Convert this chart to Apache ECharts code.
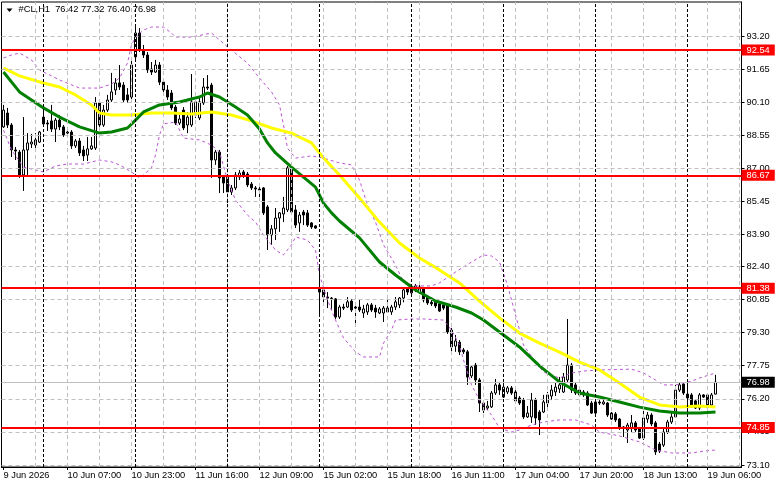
<!DOCTYPE html>
<html><head><meta charset="utf-8">
<script src="https://cdn.jsdelivr.net/npm/echarts@6/dist/echarts.min.js"></script>
<style>html,body{margin:0;padding:0;background:#fff}#c{width:781px;height:489px}</style>
</head><body><div id="c"></div>
<script>
// ---- data ----
const symbolName = "#CL,H1";
const dayList = [["9 Jun",14,23],["10 Jun",1,23],["11 Jun",1,23],["12 Jun",1,23],["15 Jun",1,23],["16 Jun",1,23],["17 Jun",1,23],["18 Jun",1,23],["19 Jun",1,8]];
const daySeparators = [10,33,56,79,102,125,148,171];
const xTickLabels = ["9 Jun 2026","10 Jun 07:00","10 Jun 23:00","11 Jun 16:00","12 Jun 09:00","15 Jun 02:00","15 Jun 18:00","16 Jun 11:00","17 Jun 04:00","17 Jun 20:00","18 Jun 13:00","19 Jun 06:00"];
const yTickLabels = [93.20,91.65,90.10,88.55,87.00,85.45,83.90,82.40,80.85,79.30,77.75,76.20,74.65,73.10];
const levels = [92.54,86.67,81.38,74.85];

const opens = [88.94,89.59,89.03,87.86,87.76,86.69,87.86,88.14,88.09,88.23,
89.40,89.12,89.22,88.84,89.26,88.94,88.65,88.70,88.05,88.28,87.86,87.62,87.91,87.95,90.06,89.03,89.73,90.20,90.67,91.00,90.90,90.44,90.34,
92.22,93.34,92.54,92.31,91.65,91.51,91.84,91.04,90.67,90.53,89.87,89.12,89.73,89.03,89.03,89.50,89.36,90.06,90.81,90.90,87.39,87.76,86.59,
86.59,85.89,86.08,86.59,86.83,86.73,86.26,86.08,86.03,86.08,85.19,83.88,84.16,84.67,84.86,85.05,87.02,85.05,84.44,84.95,84.91,84.44,84.30,
81.38,81.30,80.97,80.92,80.88,80.03,80.50,80.50,80.78,80.50,80.50,80.22,80.27,80.60,80.45,80.22,80.22,80.27,80.27,80.50,80.60,80.92,81.38,
81.16,81.38,81.44,81.38,80.97,80.72,80.72,80.65,80.60,80.60,79.42,78.67,78.85,78.49,78.40,77.27,77.78,77.08,76.00,75.77,75.82,76.47,76.85,
76.28,76.52,76.71,76.52,76.24,76.14,75.35,75.35,76.14,75.58,75.58,76.00,76.33,76.52,76.66,76.52,77.08,77.78,76.85,76.38,76.52,76.47,76.00,
76.05,76.05,75.96,76.00,75.53,75.49,75.25,74.88,74.74,74.83,75.07,74.78,74.36,75.25,75.44,75.07,74.08,74.03,74.64,75.11,75.35,76.61,76.89,
76.42,76.38,76.10,75.77,76.38,76.38,75.91,76.42];
const closes = [89.73,89.03,87.86,87.81,86.69,87.86,88.19,88.23,88.33,88.70,
89.08,89.08,88.84,89.26,88.94,88.56,88.70,88.05,88.28,87.72,87.58,87.91,88.05,90.06,89.03,89.73,90.20,90.58,91.00,90.81,90.20,90.20,91.84,
93.34,92.54,92.31,91.61,91.51,91.84,91.04,90.67,90.34,89.83,89.12,89.31,88.89,89.40,90.11,90.11,90.11,90.81,90.76,87.39,87.76,86.55,86.31,
85.89,86.08,86.69,86.78,86.69,86.22,86.08,86.03,85.98,84.91,83.88,84.16,84.67,84.91,85.14,87.02,84.95,84.34,84.81,84.81,84.34,84.25,84.20,
81.20,80.97,80.92,80.90,80.03,80.50,80.45,80.74,80.36,80.45,80.36,80.41,80.60,80.36,80.27,80.41,80.45,80.45,80.50,80.74,80.92,81.30,81.20,
81.44,81.49,81.20,80.83,80.69,80.65,80.55,80.31,80.45,79.33,78.63,78.91,78.40,78.40,77.22,77.69,77.08,76.00,75.67,75.86,76.47,76.85,76.61,
76.75,76.71,76.47,76.10,76.00,75.35,75.53,76.14,75.30,75.21,76.05,76.38,76.61,76.75,76.85,77.22,77.78,76.61,76.47,76.61,76.38,75.91,75.53,
75.53,76.00,76.05,75.44,75.25,75.21,74.83,74.83,74.97,75.07,74.74,74.36,75.30,75.44,75.02,73.71,73.75,74.64,75.11,75.35,76.61,76.85,76.47,
76.24,75.82,75.77,76.38,76.28,75.91,76.38,76.98];
const lows = [88.89,88.89,87.53,87.39,86.55,85.94,86.69,87.95,87.91,88.19,
88.94,88.75,88.70,88.23,88.79,88.47,88.56,87.91,87.95,87.58,87.34,87.34,87.86,87.86,88.94,88.94,89.64,90.11,90.44,90.67,90.06,90.06,90.20,
92.08,92.45,92.17,91.47,91.37,91.47,90.90,90.58,90.20,89.73,89.03,89.03,88.79,88.65,88.94,89.36,89.26,89.97,90.67,86.55,87.16,85.84,85.84,
85.37,85.75,85.98,86.45,86.55,86.12,85.98,85.66,85.61,84.81,83.17,83.41,83.64,84.02,84.48,84.95,84.81,84.20,84.02,84.34,84.25,84.16,84.16,
80.13,80.69,80.45,80.36,79.94,79.94,80.36,80.45,80.27,79.66,80.27,79.99,80.13,80.27,79.99,80.17,79.80,80.22,80.13,80.36,80.45,80.72,81.06,
80.97,81.20,81.11,80.72,80.60,80.55,80.45,80.27,80.36,79.24,78.40,78.40,78.25,78.30,76.85,77.17,76.85,75.58,75.53,75.67,75.77,76.38,76.38,
76.24,76.42,76.38,76.05,75.91,75.25,75.30,75.07,74.97,74.50,75.53,75.77,76.14,76.33,76.47,76.47,76.94,76.47,76.38,76.33,76.28,75.86,75.49,
75.44,75.91,75.91,75.35,75.21,75.11,74.74,74.41,74.13,74.64,74.64,74.32,74.27,75.07,74.92,73.57,73.66,73.94,74.55,75.02,75.30,76.52,76.38,
75.35,75.77,75.72,75.67,76.24,75.82,75.82,76.40];
const highs = [89.97,89.83,89.12,88.00,87.86,89.40,88.65,88.61,88.65,88.75,
89.87,89.26,89.97,89.36,89.50,89.03,88.79,88.79,88.37,88.42,88.05,88.47,88.47,90.34,90.20,89.97,90.44,91.47,91.23,91.84,91.04,90.76,92.08,
93.62,93.57,92.78,92.45,91.98,92.08,91.98,91.14,90.90,90.67,89.97,89.50,89.87,89.64,91.42,90.20,90.30,91.23,91.37,91.00,87.86,87.86,86.69,
86.69,86.22,86.83,86.92,86.92,86.83,86.36,86.17,86.12,86.12,85.28,84.34,85.14,84.95,85.66,87.11,87.16,85.28,84.95,85.05,85.05,84.48,84.34,
82.42,81.38,81.20,80.97,80.92,80.60,80.65,80.97,80.88,80.60,80.83,80.60,80.69,80.69,80.60,80.50,80.55,80.83,80.60,80.97,80.97,81.44,81.44,
81.53,81.58,81.53,81.44,81.06,80.83,80.83,80.72,80.69,80.69,79.52,79.19,78.95,78.58,78.49,77.78,77.88,77.17,76.14,76.10,76.56,77.13,76.99,
76.94,76.80,76.80,76.61,76.33,76.24,75.86,76.47,76.24,75.67,76.38,76.52,76.85,76.94,77.22,77.41,79.94,77.88,76.94,76.71,76.61,76.56,76.10,
76.14,76.14,76.14,76.05,75.58,75.58,75.30,74.92,75.07,75.44,75.16,74.88,75.67,75.58,75.53,75.16,74.18,74.83,75.21,75.58,76.85,76.94,76.94,
76.94,76.47,76.19,76.47,76.42,76.47,76.47,77.32];

// moving averages and Bollinger bands, sampled [bar index, price]
const yellowMA = [[0,91.70],[4,91.33],[10,91.00],[14,90.81],[18,90.44],[22,89.97],[24,89.59],[27,89.50],[32,89.50],[37,89.59],[42,89.59],[47,89.54],[52,89.64],[57,89.50],[62,89.22],[67,88.89],[72,88.65],[77,88.19],[80,87.48],[84,86.69],[89,85.61],[94,84.48],[99,83.50],[104,82.80],[109,82.24],[114,81.63],[119,80.78],[124,79.99],[129,79.28],[134,78.81],[139,78.39],[144,77.92],[149,77.55],[154,76.94],[159,76.28],[164,75.91],[169,75.81],[174,75.86],[178,75.81]];
const greenMA = [[0,91.51],[4,90.58],[10,89.83],[14,89.40],[19,88.94],[24,88.65],[27,88.70],[31,88.89],[33,89.26],[35,89.64],[39,89.97],[44,90.11],[49,90.34],[51,90.53],[54,90.34],[58,89.87],[61,89.50],[64,88.84],[66,88.19],[68,87.72],[72,87.06],[75,86.59],[78,86.12],[80,85.37],[82,84.91],[84,84.53],[89,83.74],[94,82.61],[98,82.00],[100,81.72],[103,81.30],[108,80.78],[113,80.50],[117,80.22],[120,79.89],[124,79.33],[129,78.63],[134,77.74],[139,76.99],[144,76.47],[149,76.28],[154,76.05],[159,75.81],[164,75.63],[169,75.53],[174,75.53],[178,75.58]];
const bandUpper = [[0,92.17],[2,92.31],[4,92.40],[7,92.08],[9,91.61],[12,91.33],[14,91.14],[19,90.76],[24,90.76],[27,90.95],[29,91.23],[31,91.93],[32,92.78],[33,93.15],[35,93.48],[37,93.62],[40,93.62],[42,93.34],[43,93.15],[47,93.15],[52,93.34],[54,93.01],[56,92.69],[61,91.93],[64,91.23],[67,90.58],[69,89.97],[70,89.03],[71,87.95],[73,87.48],[77,87.58],[80,87.48],[84,87.25],[87,87.16],[89,86.45],[91,85.28],[93,84.48],[95,83.41],[98,82.47],[100,81.67],[103,81.49],[107,81.49],[109,81.63],[113,82.14],[117,82.61],[120,82.94],[122,82.89],[124,82.61],[126,81.53],[128,80.13],[130,78.72],[133,77.92],[135,77.46],[139,77.17],[142,77.41],[145,77.50],[149,77.55],[157,77.59],[160,77.41],[163,77.08],[165,76.85],[168,76.85],[172,77.03],[174,77.17],[178,77.41]];
const bandLower = [[0,88.79],[2,87.86],[5,87.06],[10,86.83],[13,87.11],[16,87.20],[20,87.20],[24,87.39],[27,87.30],[29,87.16],[32,86.83],[34,86.55],[35,86.69],[37,87.02],[38,87.62],[39,88.56],[40,89.08],[43,89.17],[45,88.42],[49,88.33],[52,88.09],[54,87.76],[56,86.45],[58,85.51],[61,84.81],[63,84.48],[65,83.88],[68,83.17],[70,82.94],[72,83.41],[73,83.78],[76,83.64],[78,83.17],[79,82.00],[81,80.83],[83,79.89],[85,79.05],[88,78.40],[90,78.16],[94,78.16],[95,78.81],[97,79.42],[98,79.89],[102,79.94],[105,79.94],[110,79.89],[112,79.42],[114,78.72],[115,78.02],[117,76.85],[119,76.14],[121,75.67],[122,75.44],[124,74.83],[127,74.64],[129,74.74],[132,74.97],[135,75.11],[139,75.21],[143,75.21],[147,74.97],[149,74.64],[154,74.46],[159,74.18],[163,73.80],[167,73.66],[172,73.66],[175,73.75],[178,73.80]];

// ---- build ----
const categories = [];
dayList.forEach(([d,h0,h1]) => { for (let h=h0; h<=h1; h++) categories.push(d + " " + String(h).padStart(2,"0") + ":00"); });
const nBars = categories.length;
while (categories.length < 185) categories.push("pad" + categories.length);
const candleData = opens.map((o,i)=>[o, closes[i], lows[i], highs[i]]);
const last = nBars - 1;
const lastPrice = closes[last];

const FONT = "Liberation Sans";
const FS = 9.3;
const isTick = (idx) => idx % 16 === 0 && idx/16 < xTickLabels.length;

const vGrid = [];
for (let i = 8; i <= 184; i += 8) vGrid.push({xAxis: i});
const hGrid = yTickLabels.map(v => ({yAxis: v}));

const chart = echarts.init(document.getElementById('c'), null, {renderer:'canvas'});
chart.setOption({
  animation: false,
  backgroundColor: '#ffffff',
  textStyle: {fontFamily: FONT},
  grid: {left: 1.5, right: 39.5, top: 2, bottom: 22, show: true, borderColor: '#000', borderWidth: 1, backgroundColor: 'transparent'},
  xAxis: {
    type: 'category', data: categories, boundaryGap: true,
    axisLine: {show: true, lineStyle: {color: '#000'}},
    axisTick: {show: true, alignWithLabel: true, interval: (i)=>isTick(i), length: 3, lineStyle: {color:'#000'}},
    axisLabel: {interval: (i)=>isTick(i), formatter: (v, i) => xTickLabels[i/16] || '', align: 'left', margin: 4, color: '#000', fontSize: FS, fontFamily: FONT},
    splitLine: {show: false}
  },
  yAxis: {
    type: 'value', position: 'right', min: 73.0034, max: 94.7933, scale: true,
    axisLine: {show: true, lineStyle: {color: '#000'}},
    axisTick: {show: true, customValues: yTickLabels, length: 3, lineStyle: {color:'#000'}},
    axisLabel: {customValues: yTickLabels, formatter: (v)=>Number(v).toFixed(2), margin: 5, color: '#000', fontSize: FS, fontFamily: FONT},
    splitLine: {show: false}
  },
  graphic: [
    {type: 'polygon', shape: {points: [[6.5,8.5],[12.5,8.5],[9.5,12]]}, style: {fill: '#000'}, z: 100},
    {type: 'text', left: 18.5, top: 5, style: {text: symbolName + "  " + [opens[last], highs[last], lows[last], closes[last]].map(v=>v.toFixed(2)).join(" "), fill: '#000', font: FS + 'px "' + FONT + '"'}, z: 100}
  ],
  series: [
    {
      type: 'line', name: 'grid', data: [], z: 1, silent: true,
      markLine: {
        silent: true, symbol: ['none','none'], animation: false,
        label: {show: false},
        data: [
          ...hGrid.map(d => ({...d, lineStyle: {color: '#c0c0c0', width: 1, type: [4,3]}})),
          ...vGrid.map(d => ({...d, lineStyle: {color: '#c0c0c0', width: 1, type: [4,3]}})),
          ...daySeparators.map(i => ({xAxis: i, lineStyle: {color: '#000', width: 1, type: [3,2]}})),
          {yAxis: lastPrice, lineStyle: {color: '#c0c0c0', width: 1, type: 'solid'},
           label: {show: true, position: 'end', distance: 0, formatter: (p)=>Number(p.value).toFixed(2), color: '#fff', backgroundColor: '#000', padding: [1,5,0,5], lineHeight: 10, fontSize: FS, fontFamily: FONT}}
        ]
      }
    },
    {
      type: 'candlestick', name: 'price', data: candleData, z: 2, barWidth: 2, silent: true,
      itemStyle: {color: '#ffffff', color0: '#000000', borderColor: '#000000', borderColor0: '#000000', borderWidth: 1}
    },
    {type: 'line', name: 'bbUpper', data: bandUpper, z: 3, symbol: 'none', silent: true, lineStyle: {color: '#BA55D3', width: 1, type: [3,3]}},
    {type: 'line', name: 'bbLower', data: bandLower, z: 3, symbol: 'none', silent: true, lineStyle: {color: '#BA55D3', width: 1, type: [3,3]}},
    {type: 'line', name: 'maYellow', data: yellowMA, z: 4, symbol: 'none', silent: true, lineStyle: {color: '#FFFF00', width: 3}},
    {type: 'line', name: 'maGreen', data: greenMA, z: 4, symbol: 'none', silent: true, lineStyle: {color: '#008000', width: 3}},
    {
      type: 'line', name: 'levels', data: [], z: 5, silent: true,
      markLine: {
        silent: true, symbol: ['none','none'], animation: false,
        lineStyle: {color: '#ff0000', width: 2, type: 'solid'},
        label: {show: true, position: 'end', distance: 0, formatter: (p)=>Number(p.value).toFixed(2), color: '#fff', backgroundColor: '#ff0000', padding: [1,5,0,5], lineHeight: 10, fontSize: FS, fontFamily: FONT},
        data: levels.map(v => ({yAxis: v}))
      }
    }
  ]
});
</script></body></html>
